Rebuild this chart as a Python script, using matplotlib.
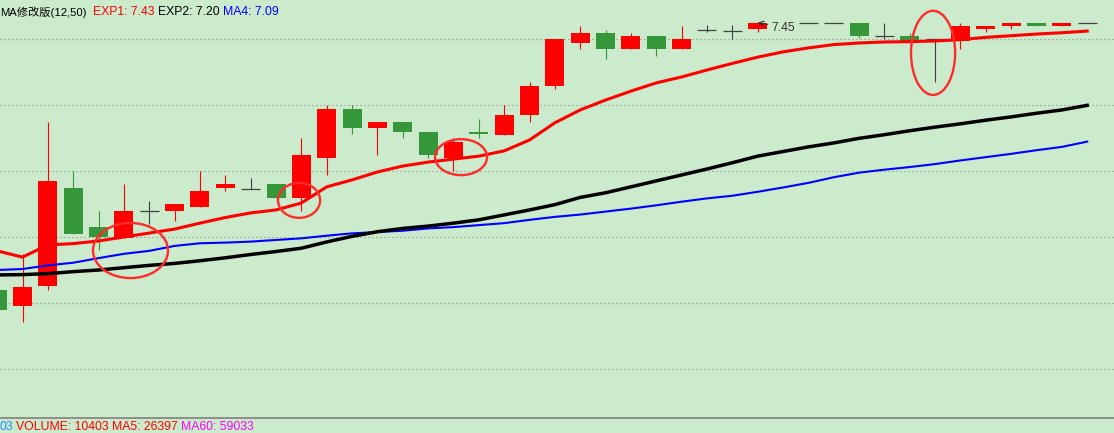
import numpy as np
import matplotlib
matplotlib.use('Agg')
import matplotlib.pyplot as plt
from matplotlib.patches import Rectangle, Ellipse

nan = float('nan')

# ---------------- data ----------------
days = list(range(44))
opens = [6.639, 6.591, 6.650, 6.949, 6.830, 6.797, 6.879, 6.879, 6.891, 6.949,
         6.946, 6.961, 6.918, 7.039, 7.188, 7.130, 7.149, 7.118, 7.039, 7.118,
         7.109, 7.170, 7.258, 7.388, 7.418, 7.370, 7.409, 7.370, 7.426, 7.425,
         7.430, nan, 7.450, 7.450, 7.450, 7.410, 7.410, 7.400, 7.395, 7.430,
         7.440, 7.450, 7.440, 7.450]
closes = [6.579, 6.649, 6.970, 6.809, 6.800, 6.879, 6.879, 6.900, 6.939, 6.961,
          6.946, 6.918, 7.049, 7.188, 7.130, 7.149, 7.118, 7.049, 7.088, 7.112,
          7.170, 7.258, 7.400, 7.418, 7.370, 7.409, 7.370, 7.400, 7.426, 7.425,
          7.450, nan, 7.450, 7.450, 7.410, 7.410, 7.395, 7.400, 7.440, 7.440,
          7.450, 7.440, 7.450, 7.450]
highs = [6.639, 6.749, 7.149, 7.000, 6.879, 6.961, 6.909, 6.900, 7.000, 6.988,
         6.979, 6.961, 7.100, 7.200, 7.200, 7.149, 7.149, 7.118, 7.100, 7.158,
         7.200, 7.270, 7.400, 7.439, 7.427, 7.418, 7.409, 7.439, 7.441, 7.442,
         7.450, nan, 7.450, 7.450, 7.450, 7.450, 7.417, 7.400, 7.450, 7.440,
         7.450, 7.450, 7.450, 7.450]
lows = [6.579, 6.542, 6.639, 6.809, 6.761, 6.797, 6.839, 6.849, 6.891, 6.939,
        6.946, 6.918, 6.879, 6.988, 7.112, 7.049, 7.100, 7.039, 7.000, 7.100,
        7.109, 7.149, 7.249, 7.370, 7.339, 7.370, 7.349, 7.370, 7.420, 7.400,
        7.420, nan, 7.450, 7.450, 7.402, 7.400, 7.395, 7.271, 7.371, 7.420,
        7.430, 7.440, 7.440, 7.450]

exp1 = [6.758, 6.739, 6.776, 6.780, 6.788, 6.800, 6.812, 6.824, 6.842, 6.859,
        6.873, 6.882, 6.903, 6.952, 6.973, 6.997, 7.015, 7.027, 7.036, 7.045,
        7.061, 7.094, 7.146, 7.185, 7.215, 7.242, 7.267, 7.285, 7.306, 7.326,
        7.345, 7.361, 7.373, 7.383, 7.388, 7.391, 7.392, 7.394, 7.398, 7.405,
        7.410, 7.415, 7.419, 7.424]
exp2 = [6.685, 6.686, 6.689, 6.695, 6.700, 6.707, 6.714, 6.720, 6.728, 6.737,
        6.747, 6.756, 6.766, 6.785, 6.802, 6.816, 6.826, 6.833, 6.842, 6.852,
        6.867, 6.882, 6.898, 6.920, 6.934, 6.952, 6.970, 6.988, 7.006, 7.025,
        7.045, 7.059, 7.073, 7.085, 7.099, 7.110, 7.122, 7.133, 7.143, 7.154,
        7.164, 7.175, 7.185, 7.199]
ma4 = [6.700, 6.703, 6.714, 6.722, 6.736, 6.749, 6.758, 6.773, 6.781, 6.783,
       6.786, 6.791, 6.796, 6.804, 6.811, 6.815, 6.819, 6.826, 6.830, 6.836,
       6.842, 6.852, 6.861, 6.868, 6.877, 6.886, 6.896, 6.907, 6.917, 6.925,
       6.937, 6.950, 6.964, 6.981, 6.995, 7.004, 7.012, 7.021, 7.032, 7.042,
       7.052, 7.063, 7.073, 7.089]

grid_levels = [7.40, 7.20, 7.00, 6.80, 6.60, 6.40]

top_texts = ["MA修改版(12,50)", "EXP1: 7.43", "EXP2: 7.20", "MA4: 7.09"]
bottom_texts = ["03", "VOLUME: 10403", "MA5: 26397", "MA60: 59033"]
high_label = "7.45"
high_day = 30

# highlight ellipses: (center day, center price, width in days, height in price)
ellipses = [(5.26, 6.759, 2.96, 0.167),
            (11.91, 6.911, 1.66, 0.106),
            (18.30, 7.042, 2.05, 0.109),
            (36.92, 7.358, 1.74, 0.255)]

# ---------------- style ----------------
BG = '#CCEACC'
RED = '#FF0000'
GREEN = '#36963A'
DOJI = '#404040'
W, H = 1114, 433
FONT = ['Liberation Sans', 'Noto Sans CJK SC', 'DejaVu Sans']
FS = 8.8

fig = plt.figure(figsize=(W / 100, H / 100), dpi=100)
fig.patch.set_facecolor(BG)
ax = fig.add_axes([0, (H - 418) / H, 1, 418 / H])
ax.set_facecolor(BG)
ax.set_xlim(0.112, 44.057)
ax.set_ylim(6.2515, 7.5182)
for s in ax.spines.values():
    s.set_visible(False)
ax.set_xticks([])
ax.set_yticks([])

for lv in grid_levels:
    ax.axhline(lv, color='#8A8A8A', lw=0.8, linestyle=(0, (1, 2.6)), zorder=1)

bw = 0.75
for i, o, c, h, l in zip(days, opens, closes, highs, lows):
    if np.isnan(o):
        continue
    if abs(c - o) < 1e-9:
        col = DOJI
    elif c > o:
        col = RED
    else:
        col = GREEN
    if h > l:
        ax.vlines(i, l, h, color=col, lw=0.8, zorder=2)
    if col == DOJI:
        ax.hlines(o, i - bw / 2, i + bw / 2, color=col, lw=0.9, zorder=2)
    else:
        bot = min(o, c)
        ht = max(abs(c - o), 0.004)
        ax.add_patch(Rectangle((i - bw / 2, bot), bw, ht, facecolor=col,
                               edgecolor='none', zorder=3))

ax.plot(days, ma4, color='#0000FF', lw=1.5, zorder=4)
ax.plot(days, exp2, color='#000000', lw=2.5, zorder=4)
ax.plot(days, exp1, color='#FF0000', lw=2.2, zorder=5)

for cx, cy, ew, eh in ellipses:
    ax.add_patch(Ellipse((cx, cy), ew, eh, fill=False, edgecolor='#FF2B2B',
                         lw=1.7, zorder=6))

ax.annotate(high_label, xy=(high_day, highs[high_day]), xytext=(14, -5),
            textcoords='offset pixels', ha='left', va='center', fontsize=FS,
            color='#333333', family=FONT,
            arrowprops=dict(arrowstyle='->', color='#333333', lw=0.8,
                            shrinkA=1, shrinkB=0), zorder=7)

# separator line
fig.add_artist(plt.Line2D([0, 1], [(H - 418) / H] * 2, color='#808080', lw=1.2,
                          transform=fig.transFigure))

top_x = [0, 93, 158, 223]
top_c = ['#000000', '#FF0000', '#000000', '#0000FF']
top_fs = [8.1, FS, FS, FS]
for t, xx, cc, fs in zip(top_texts, top_x, top_c, top_fs):
    fig.text(xx / W, 1 - 12 / H, t, color=cc, fontsize=fs, family=FONT,
             ha='left', va='center')

bot_x = [-1, 16, 112, 181]
bot_c = ['#1E90FF', '#FF0000', '#FF0000', '#FF00FF']
for t, xx, cc in zip(bottom_texts, bot_x, bot_c):
    fig.text(xx / W, 1 - 427 / H, t, color=cc, fontsize=FS, family=FONT,
             ha='left', va='center')

fig.savefig('out.png', dpi=100, facecolor=BG)
